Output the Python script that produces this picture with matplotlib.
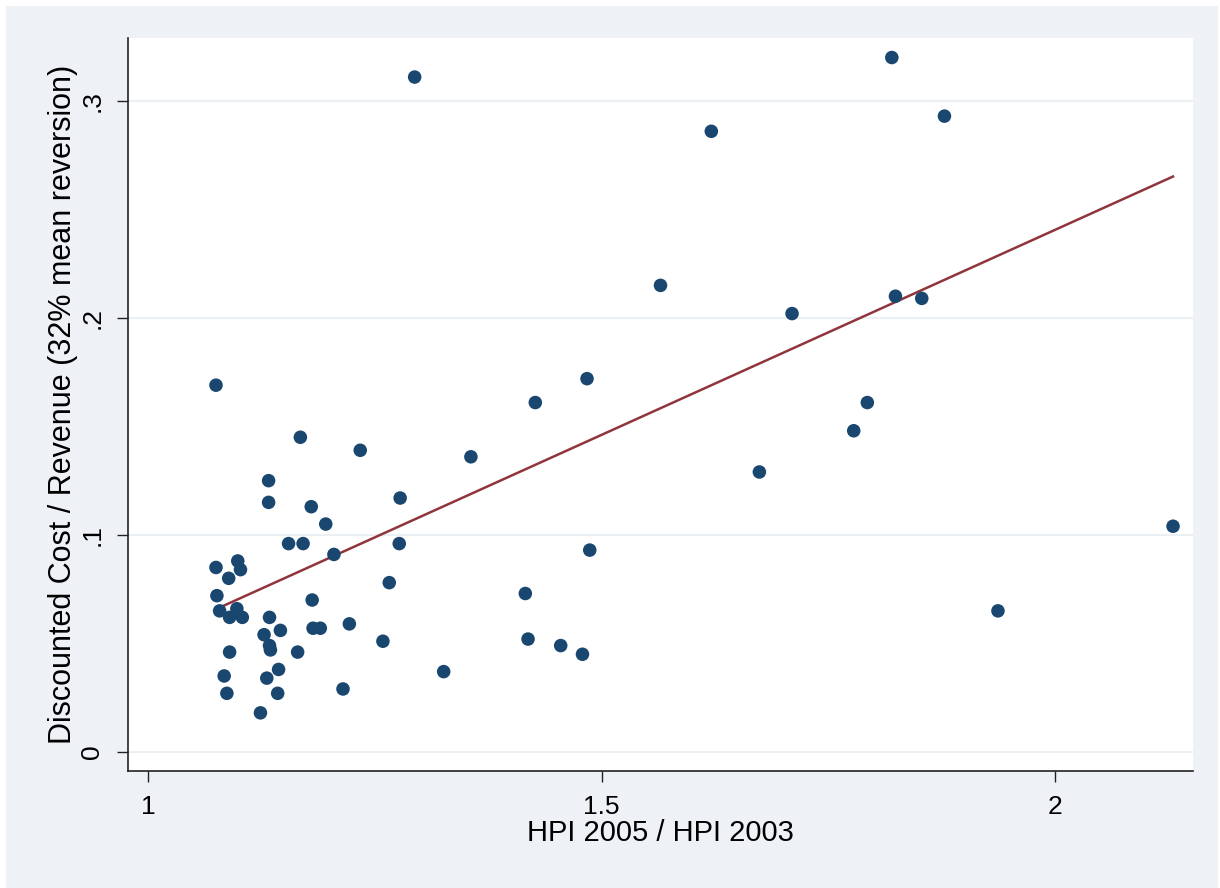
"""
Discounted cost / revenue against HPI growth, Stata-style scatter with linear fit
"""

import numpy as np
import matplotlib
matplotlib.use("Agg")
import matplotlib.pyplot as plt
from matplotlib.patches import Rectangle

plt.rcParams['font.family'] = ['Liberation Sans', 'DejaVu Sans']

# Data
hpi_ratio = [1.168, 1.234, 1.133, 1.133, 1.180, 1.196, 1.278, 1.155, 1.171, 1.277,
             1.205, 1.075, 1.099, 1.102, 1.089, 1.266, 1.076, 1.181, 1.079, 1.098,
             1.090, 1.104, 1.134, 1.128, 1.146, 1.182, 1.190, 1.222, 1.134, 1.135,
             1.090, 1.165, 1.259, 1.084, 1.131, 1.144, 1.087, 1.143, 1.215, 1.124,
             1.075, 1.294, 1.621, 1.565, 1.484, 1.427, 1.356, 1.487, 1.416, 1.419,
             1.455, 1.479, 1.326, 1.820, 1.878, 1.710, 1.824, 1.853, 1.793, 1.778,
             1.674, 2.130, 1.937]
cost_revenue = [0.145, 0.139, 0.125, 0.115, 0.113, 0.105, 0.117, 0.096, 0.096, 0.096,
                0.091, 0.085, 0.088, 0.084, 0.080, 0.078, 0.072, 0.070, 0.065, 0.066,
                0.062, 0.062, 0.062, 0.054, 0.056, 0.057, 0.057, 0.059, 0.049, 0.047,
                0.046, 0.046, 0.051, 0.035, 0.034, 0.038, 0.027, 0.027, 0.029, 0.018,
                0.169, 0.311, 0.286, 0.215, 0.172, 0.161, 0.136, 0.093, 0.073, 0.052,
                0.049, 0.045, 0.037, 0.320, 0.293, 0.202, 0.210, 0.209, 0.161, 0.148,
                0.129, 0.104, 0.065]
# fitted line as drawn in the original (probably a weighted fit, not plain OLS
# of the visible points) -- slope/intercept
fit_slope = 0.189
fit_intercept = -0.1374

x_ticks = [1, 1.5, 2]
x_tick_labels = ['1', '1.5', '2']
y_ticks = [0, 0.1, 0.2, 0.3]
y_tick_labels = ['0', '.1', '.2', '.3']

navy = '#1a476f'
maroon = '#90353b'
bg_gray = '#eef2f6'
grid_col = '#eaf0f4'

fig = plt.figure(figsize=(12.2, 8.88), dpi=100, facecolor='white')
# Stata graph region (behind the axes)
fig.patches.append(Rectangle((6 / 1220, 0), 1212 / 1220, 1 - 6 / 888,
                             transform=fig.transFigure, facecolor=bg_gray,
                             edgecolor='none', zorder=-10))

ax = fig.add_axes([128 / 1220, 117 / 888, 1065 / 1220, 733 / 888])
ax.set_zorder(1)
ax.set_facecolor('white')

x = np.array(hpi_ratio)
y = np.array(cost_revenue)

# line over the range of x (like twoway lfit)
x_fit = np.array([x.min(), x.max()])
ax.plot(x_fit, fit_intercept + fit_slope * x_fit, color=maroon, lw=1.8, zorder=3)

ax.scatter(x, y, s=95, color=navy, edgecolors='none', zorder=4)

ax.set_xlim(0.978, 2.152)
ax.set_ylim(-0.0088, 0.329)

ax.set_xticks(x_ticks)
ax.set_xticklabels(x_tick_labels)
ax.set_yticks(y_ticks)
ax.set_yticklabels(y_tick_labels, rotation=90, va='center')

for v in y_ticks:
    ax.axhline(v, color=grid_col, lw=1.5, zorder=1)

for side in ['top', 'right']:
    ax.spines[side].set_visible(False)
for side in ['left', 'bottom']:
    ax.spines[side].set_linewidth(1.2)
    ax.spines[side].set_color('#222222')

ax.tick_params(axis='both', direction='out', length=8, width=1.0,
               color='#222222', labelsize=19)
ax.tick_params(axis='x', pad=9)
ax.tick_params(axis='y', pad=9)

ax.set_xlabel('HPI 2005 / HPI 2003', fontsize=21, labelpad=0)
ax.set_ylabel('Discounted Cost / Revenue (32% mean reversion)', fontsize=22, labelpad=2)

plt.savefig('out.png', dpi=100, facecolor='white')
